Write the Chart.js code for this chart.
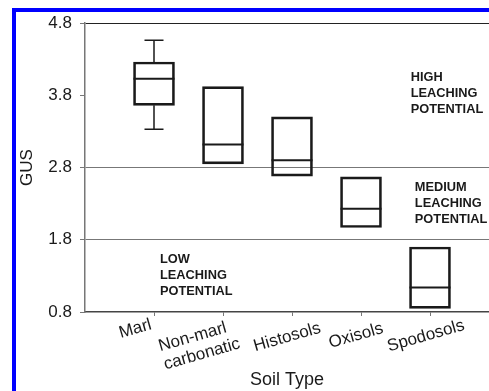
<!DOCTYPE html>
<html><head><meta charset="utf-8">
<script src="https://cdn.jsdelivr.net/npm/chart.js@4"></script>
<style>
html,body{margin:0;padding:0;background:#fff;overflow:hidden}
#wrap{position:relative;width:489px;height:391px;overflow:hidden}
#frame{position:absolute;left:12px;top:8px;right:-10px;bottom:-10px;border-left:4px solid #0000ff;border-top:4px solid #0000ff;pointer-events:none}
canvas{position:absolute;left:0;top:0}
</style></head><body>
<div id="wrap"><canvas id="c" width="489" height="391"></canvas><div id="frame"></div></div>
<script>
const categories = ['Marl', ['Non-marl', 'carbonatic'], 'Histosols', 'Oxisols', 'Spodosols'];
const boxLow = [3.66, 2.85, 2.68, 1.97, 0.85];
const boxHigh = [4.26, 3.92, 3.50, 2.67, 1.70];
const medians = [4.03, 3.12, 2.90, 2.23, 1.14];
const whiskerLow = [3.33, null, null, null, null];
const whiskerHigh = [4.56, null, null, null, null];
const yTicks = [0.8, 1.8, 2.8, 3.8, 4.8];
const zoneLines = [1.8, 2.8];
const zoneLabels = [['HIGH', 'LEACHING', 'POTENTIAL'], ['MEDIUM', 'LEACHING', 'POTENTIAL'], ['LOW', 'LEACHING', 'POTENTIAL']];

const FONT = "'Liberation Sans', Arial, sans-serif";
Chart.defaults.font.family = FONT;
Chart.defaults.color = '#1a1a1a';

const boxDetails = {
  id: 'boxDetails',
  afterDatasetsDraw(chart, args, opts) {
    const ctx = chart.ctx, xs = chart.scales.x, ys = chart.scales.y;
    const meta = chart.getDatasetMeta(0);
    ctx.save();
    ctx.strokeStyle = '#1a1a1a';
    meta.data.forEach((bar, i) => {
      const cx = bar.x, hw = bar.width / 2;
      ctx.lineWidth = 2;
      const my = ys.getPixelForValue(medians[i]);
      ctx.beginPath(); ctx.moveTo(cx - hw, my); ctx.lineTo(cx + hw, my); ctx.stroke();
      ctx.lineWidth = 1.5;
      const cap = opts.capHalf;
      if (whiskerHigh[i] != null) {
        const a = ys.getPixelForValue(boxHigh[i]), b = ys.getPixelForValue(whiskerHigh[i]);
        ctx.beginPath(); ctx.moveTo(cx, a); ctx.lineTo(cx, b); ctx.moveTo(cx - cap, b); ctx.lineTo(cx + cap, b); ctx.stroke();
      }
      if (whiskerLow[i] != null) {
        const a = ys.getPixelForValue(boxLow[i]), b = ys.getPixelForValue(whiskerLow[i]);
        ctx.beginPath(); ctx.moveTo(cx, a); ctx.lineTo(cx, b); ctx.moveTo(cx - cap, b); ctx.lineTo(cx + cap, b); ctx.stroke();
      }
    });
    // zone labels
    ctx.fillStyle = '#1a1a1a';
    ctx.font = "bold 12.8px " + FONT;
    ctx.textAlign = 'left';
    ctx.textBaseline = 'alphabetic';
    zoneLabels.forEach((lines, k) => {
      const p = opts.labelAt[k];
      const x = xs.getPixelForValue(p.x), y = ys.getPixelForValue(p.y);
      lines.forEach((t, j) => ctx.fillText(t, x, y + j * opts.lineGap));
    });
    ctx.restore();
  },
  afterDraw(chart, args, opts) {
    // rotated category labels of the x axis, placed at each tick of the scale
    const ctx = chart.ctx, xs = chart.scales.x;
    ctx.save();
    ctx.fillStyle = '#1a1a1a';
    ctx.font = '17px ' + FONT;
    ctx.textAlign = 'left';
    ctx.textBaseline = 'alphabetic';
    xs.ticks.forEach((t, i) => {
      const lab = categories[i];
      const lines = Array.isArray(lab) ? lab : [lab];
      const sh = opts.tickLabelShift[i];
      const px = xs.getPixelForValue(t.value);
      ctx.save();
      ctx.translate(px + sh[0], xs.top + sh[1]);
      ctx.rotate(-opts.tickLabelAngle * Math.PI / 180);
      lines.forEach((s, j) => ctx.fillText(s, 0, j * opts.tickLineHeight));
      ctx.restore();
    });
    ctx.restore();
  }
};

new Chart(document.getElementById('c'), {
  type: 'bar',
  data: {
    datasets: [{
      data: categories.map((c, i) => ({ x: i + 1, y: [boxLow[i], boxHigh[i]] })),
      backgroundColor: 'rgba(255,255,255,0)',
      borderColor: '#1a1a1a',
      borderWidth: 2,
      borderSkipped: false,
      barThickness: 41
    }]
  },
  options: {
    responsive: false,
    animation: false,
    devicePixelRatio: 1,
    layout: { padding: { top: 23, right: 0, left: 0, bottom: 0 } },
    plugins: {
      legend: { display: false },
      tooltip: { enabled: false },
      boxDetails: {
        capHalf: 9.5,
        lineGap: 16,
        labelAt: [{ x: 4.72, y: 4.0 }, { x: 4.78, y: 2.475 }, { x: 1.087, y: 1.48 }],
        tickLabelAngle: 16,
        tickLineHeight: 19,
        tickLabelShift: [[-33.3, 26], [-62.7, 39.3], [-36.7, 39.3], [-30.5, 36], [-41, 39.5]]
      }
    },
    scales: {
      x: {
        type: 'linear', min: 0, max: 5.855, offset: false,
        afterBuildTicks: s => { s.ticks = categories.map((c, i) => ({ value: i + 1 })); },
        afterFit: s => { s.height = 79; },
        ticks: { display: false, autoSkip: false },
        grid: { offset: false, drawOnChartArea: false, drawTicks: true, tickLength: 4, tickColor: '#777' },
        border: { color: '#444', width: 1.5 },
        title: { display: true, text: 'Soil Type', font: { size: 18 }, color: '#1a1a1a', padding: { top: 0, bottom: 0 } }
      },
      y: {
        min: 0.8, max: 4.8,
        afterBuildTicks: s => { s.ticks = yTicks.map(v => ({ value: v })); },
        afterFit: s => { s.width = 85; },
        ticks: { font: { size: 17 }, color: '#1a1a1a', padding: 8, callback: v => v.toFixed(1) },
        grid: {
          tickLength: 5, tickColor: '#777', lineWidth: 1,
          color: c => {
            const v = c.tick ? c.tick.value : null;
            if (v === 4.8) return '#222';
            if (zoneLines.includes(v)) return '#777';
            return 'rgba(0,0,0,0)';
          }
        },
        border: { color: '#777', width: 1.5 },
        title: { display: true, text: 'GUS', font: { size: 17 }, color: '#1a1a1a', padding: { top: 17, bottom: 0 } }
      }
    }
  },
  plugins: [boxDetails]
});
</script>
</body></html>
